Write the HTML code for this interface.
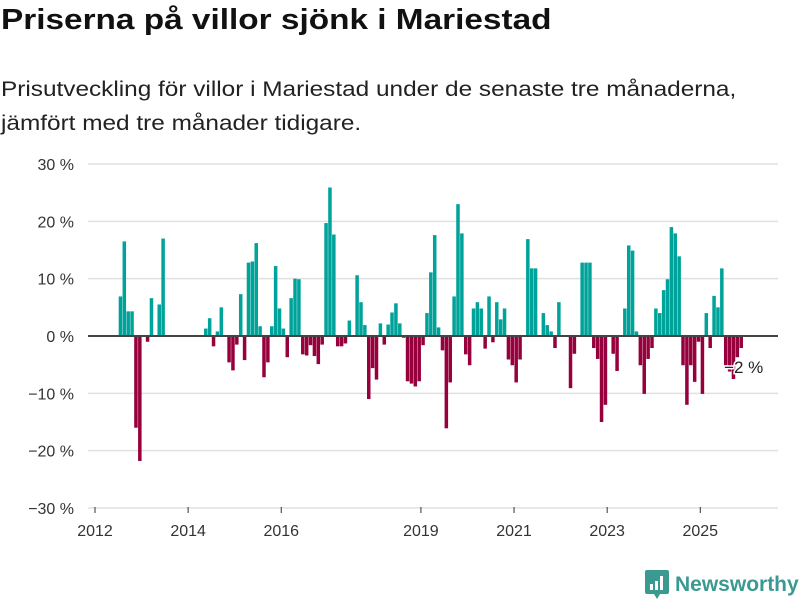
<!DOCTYPE html>
<html><head><meta charset="utf-8"><style>
body{margin:0;width:800px;height:600px;background:#fff;font-family:"Liberation Sans","DejaVu Sans",sans-serif;overflow:hidden;position:relative}
h1{position:absolute;left:1px;top:4px;margin:0;font-size:29px;font-weight:bold;color:#111;transform:scaleX(1.15);transform-origin:0 0;white-space:nowrap}
.sub{position:absolute;left:1px;top:73px;font-size:21px;line-height:34px;color:#222;transform:scaleX(1.16);transform-origin:0 0;white-space:nowrap}
svg{position:absolute;left:0;top:0}
.logo{position:absolute;left:645px;top:570px;display:flex;align-items:center;gap:6px;color:#3a9a91;font-weight:bold;font-size:21px}
</style></head><body>
<h1>Priserna på villor sjönk i Mariestad</h1>
<div class="sub">Prisutveckling för villor i Mariestad under de senaste tre månaderna,<br>jämfört med tre månader tidigare.</div>
<svg id="chart" width="800" height="600"></svg>
<div class="logo"><svg width="24" height="30" viewBox="0 0 24 30" style="position:static"><path d="M0 2 Q0 0 2 0 H22 Q24 0 24 2 V22 Q24 24 22 24 H15 L12 29 L9 24 H2 Q0 24 0 22Z" fill="#3a9a91"/><rect x="5" y="14" width="3" height="6" fill="#fff"/><rect x="10" y="11" width="3" height="9" fill="#fff"/><rect x="15" y="6" width="3" height="14" fill="#fff"/></svg><span>Newsworthy</span></div>
<script>
const startMonth = 6; // months since Jan 2012 of first value (Jul 2012)
const values = [6.9,16.5,4.3,4.3,-16,-21.8,0,-1,6.6,0,5.5,17,
0,0,0,0,0,0,0,0,0,0,
1.3,3.1,-1.8,0.8,5.0,0,-4.6,-6.0,-1.5,7.3,-4.2,12.8,13,16.2,1.7,-7.2,-4.6,1.7,12.2,4.8,1.3,-3.7,6.6,10,9.9,-3.2,-3.4,-1.6,-3.5,-4.9,-1.5,19.7,25.9,17.7,-1.8,-1.8,-1.3,2.7,0,10.6,5.9,1.9,-11,-5.6,-7.6,2.2,-1.5,2.0,4.1,5.7,2.2,-0.3,-7.9,-8.3,-8.8,-7.9,-1.6,4.0,11.1,17.6,1.5,-2.5,-16.1,-8.1,6.9,23,17.9,-3.2,-5.1,4.8,5.9,4.8,-2.2,6.9,-1.1,5.9,2.9,4.8,-4.1,-5.1,-8.1,-4.1,0,16.9,11.8,11.8,0,4.0,1.9,0.8,-2.1,5.9,0,0,-9.1,-3.1,0,12.8,12.8,12.8,-2.1,-4,-15,-12,0,-3.1,-6.1,0,4.8,15.8,14.9,0.8,-5.1,-10.1,-4,-2.1,4.8,4.0,8.0,9.9,19,17.9,13.9,-5.1,-12,-5.1,-8,-1,-10.1,4.0,-2.1,7.0,5.0,11.8,-5.1,-6.2,-7.5,-3.7,-2.1];
const yTicks = [30,20,10,0,-10,-20,-30];
const yTickLabels = ["30 %","20 %","10 %","0 %","−10 %","−20 %","−30 %"];
const xTickYears = [2012,2014,2016,2019,2021,2023,2025];
const lastLabel = "−2 %";

const NS="http://www.w3.org/2000/svg", svg=document.getElementById('chart');
const y = v => 336 - v*5.733;
const x = m => 95 + m*3.88; // m = months since Jan 2012
function el(t,a,p){const e=document.createElementNS(NS,t);for(const k in a)e.setAttribute(k,a[k]);(p||svg).appendChild(e);return e;}
yTicks.forEach((t,i)=>{
  if(t!==0){const g=el('line',{x1:88,x2:778,y1:y(t),y2:y(t),stroke:'#e0e0e0','stroke-width':1.5});
  
  }
  const tx=el('text',{x:74,y:y(t)+6,'text-anchor':'end','font-size':16,fill:'#333'});
  tx.textContent=yTickLabels[i];
  
  
});
xTickYears.forEach(yr=>{
  const xx=x((yr-2012)*12);
  const tk=el('line',{x1:xx,x2:xx,y1:507,y2:513,stroke:'#333','stroke-width':1});
  
  
  const tx=el('text',{x:xx,y:536,'text-anchor':'middle','font-size':16,fill:'#333'});
  tx.textContent=yr;
  
  
});
values.forEach((v,i)=>{
  if(v===0)return;
  const m=startMonth+i, x0=x(m)+0.4;
  const r=el('rect',{x:x0,width:3.5,y:Math.min(y(v),336),height:Math.abs(y(v)-336),fill:v>0?'#00a39a':'#96003c'});
  
  
});
const zl=el('line',{x1:88,x2:778,y1:336,y2:336,stroke:'#444','stroke-width':2});


const li=values.length-1, lv=values[li];
const lab=el('text',{x:x(startMonth+li)-15,y:y(lv)+25,'font-size':17,fill:'#222',stroke:'#fff','stroke-width':3,'paint-order':'stroke'});
lab.textContent=lastLabel;


</script>
</body></html>
